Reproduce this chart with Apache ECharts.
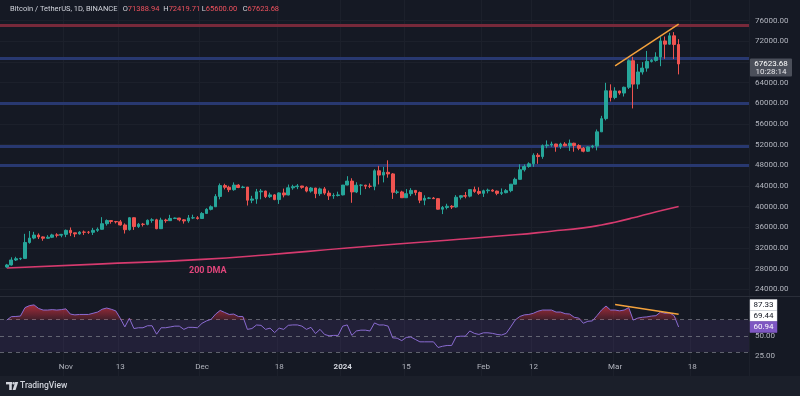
<!DOCTYPE html>
<html><head><meta charset="utf-8">
<script src="https://cdn.jsdelivr.net/npm/echarts@6/dist/echarts.min.js"></script>
<style>html,body{margin:0;padding:0;background:#151924;}#c{width:800px;height:396px;}</style>
</head><body><div id="c"></div>
<script>
// ---------- data ----------
const firstCategory = '2023-10-18';
const categoryCount = 165;
const firstCandle = '2023-10-19';

const open = [
 28328,28720,29680,29920,29990,33070,33920,34500,34150,33890,34080,34530,34480,
 34640,35420,34940,34730,35080,35050,35040,35420,35620,36700,37310,37130,37060,36460,35550,37860,36160,36610,36570,37360,37450,35740,37410,37290,37720,37800,37450,37240,37820,37850,
 37710,38690,39480,39980,41980,44080,43750,43290,44170,43710,43790,41250,41490,42870,43020,41940,42280,41370,42660,42270,43650,43870,44000,43740,43020,43610,42520,43440,42630,42100,42160,
 42280,44180,44950,42850,44150,44160,43970,43930,46950,46110,46650,46340,42780,42850,41730,42510,43150,42740,41260,41620,41670,41550,39510,39850,40080,39930,41820,42120,42040,43300,42950,
 42580,43080,43200,43010,42580,42710,43100,44350,45290,47150,47770,48290,49960,49700,51810,51940,52120,51660,52120,51780,52280,51840,51300,50730,51570,51730,54480,57040,62430,
 61130,62390,61990,63110,68250,63720,66070,66820,68120,68310,68960,72080,71450,73070,71388.94
];
const high = [
 28920,30200,30300,30110,34740,35280,35130,34820,34250,34480,34750,34860,34720,
 35580,35980,34950,35260,35380,35290,35890,35980,37970,37530,37410,37230,37430,36760,37980,37930,36850,36850,37530,37760,37650,37860,37660,38420,37890,37830,37590,38390,38450,38170,
 38950,39700,40250,42420,44490,44430,44050,44700,44360,44040,43790,42100,43430,43420,43090,42720,42430,42760,43500,44280,44240,44380,44020,43950,43800,43620,43680,43800,43110,42600,42900,
 44180,45900,45500,44730,44340,44230,44500,47250,47900,47700,48970,46500,43260,43080,43400,43580,43200,42930,42200,41870,41870,41680,40130,40560,40290,42230,42200,42840,43310,43880,43750,
 43290,43490,43380,43120,43530,43400,44370,45610,48200,48170,48590,50330,50370,52040,52820,52580,52180,52370,52480,52990,52370,52080,51550,51680,51960,54940,57580,63970,63680,
 63110,62430,63230,68500,69000,67640,67980,70140,68590,69880,72800,72940,73650,73780,72419.71
];
const low = [
 28170,28600,29480,29660,29880,32830,33690,33730,33400,33800,33920,34050,34070,
 34100,34300,34100,34580,34530,34730,34520,35120,35540,36330,36710,36750,36340,34800,35360,35500,35880,36160,36390,36890,35630,35670,36880,37250,37600,37160,36720,36880,37600,37500,
 37620,38650,39280,39980,41420,43340,42820,43080,43580,43560,40220,40680,40560,41420,41660,41680,41250,40530,41800,42180,43280,43390,43470,42780,42720,41640,42100,42300,41300,41520,41970,
 42180,44150,40750,42630,42280,43400,43580,43180,44300,44700,45600,41500,42440,41720,41720,42050,42200,40680,40280,41450,41500,39430,38560,39480,39550,39820,41390,41620,41800,42680,42280,
 41880,42580,42880,42220,42260,42580,42790,44330,45240,46800,47540,47710,48300,49270,51310,51590,50630,51180,51690,50790,50630,50930,50520,50590,51280,50900,54450,56700,60360,
 60790,61660,61320,62780,59010,62790,65570,66130,67900,68070,67190,68620,71330,68560,65600
];
const close = [
 28720,29680,29920,29990,33070,33920,34500,34150,33890,34080,34530,34480,34640,
 35420,34940,34730,35080,35050,35040,35420,35620,36700,37310,37130,37060,36460,35550,37860,36160,36610,36570,37360,37450,35740,37410,37290,37720,37800,37450,37240,37820,37850,37710,
 38690,39480,39980,41980,44080,43750,43290,44170,43710,43790,41250,41490,42870,43020,41940,42280,41370,42660,42270,43650,43870,44000,43740,43020,43610,42520,43440,42630,42100,42160,42280,
 44180,44950,42850,44150,44160,43970,43930,46950,46110,46650,46340,42780,42850,41730,42510,43150,42740,41260,41620,41670,41550,39510,39850,40080,39930,41820,42120,42040,43300,42950,42580,
 43080,43200,43010,42580,42710,43100,44350,45290,47150,47770,48290,49960,49700,51810,51940,52120,51660,52120,51780,52280,51840,51300,50730,51570,51730,54480,57040,62430,61130,
 62390,61990,63110,68250,63720,66070,66820,68120,68310,68960,72080,71450,73070,71388.94,67623.68
];
const rsi = [
 69.6,73.8,74,74.5,85,87.5,88.4,84,82,82,82.5,82,82.5,
 83.5,77,76,76.5,76.5,76.5,78,79.5,83,84.5,83,81,71.7,61,71.7,59,60,60,62.5,62.5,52,60,60,61,62,62,58,60.5,60.5,60,
 65.5,68.5,70.5,77,81.5,79,76.5,77,74,74,58,59,63.4,63,58,59.5,54,59.5,58,63,63.5,63.5,62,58,60.5,52.8,58,51.7,50,50.5,50.5,
 62,63.5,50.5,56,57,57,56,66,63.4,63.5,62,47.5,47,44,48,48.5,45.5,42.5,42.5,42.5,42.5,35.5,37,38,38,49,49.5,49.5,56,53,51.7,
 53.7,53.7,53,51.7,51,53,61,69.6,74,76,76.5,78,80.5,82,82,82,79.5,79.5,77.5,77,73,72,65.6,68,68.5,75,82,87,82,
 82,81,82,85,69.5,72,73,73.5,74.5,75,79.5,78,78.5,75,60.94
];
const dma200 = [
 ['2023-10-19',28115],['2023-11-08',28885],['2023-12-01',29790],['2023-12-15',30650],
 ['2024-01-02',32000],['2024-01-24',33500],['2024-02-08',34550],['2024-02-16',35250],
 ['2024-02-23',35900],['2024-02-27',36450],['2024-03-01',37000],['2024-03-05',37850],
 ['2024-03-08',38550],['2024-03-11',39200],['2024-03-15',40040]
];
const priceTrend = [['2024-03-01',67250],['2024-03-15',75330]];
const rsiTrend = [['2024-03-01',88.8],['2024-03-15',76.7]];
const resistanceLevels = [75040];
const supportLevels = [68630,59980,51770,47920];
const priceTicks = [24000,28000,32000,36000,40000,44000,48000,52000,56000,60000,64000,68000,72000,76000];
const rsiLevels = [70,50,30];
const tickDates = ['2023-11-01','2023-11-13','2023-12-01','2023-12-18','2024-01-01','2024-01-15','2024-02-01','2024-02-12','2024-03-01','2024-03-18'];
const tickLabels = ['Nov','13','Dec','18','2024','15','Feb','12','Mar','18'];
const headerTitle = 'Bitcoin / TetherUS, 1D, BINANCE';
const headerKeys = ['O','H','L','C'];
const headerValues = ['71388.94','72419.71','65600.00','67623.68'];
const lastPrice = 67623.68;
const countdown = '10:28:14';
const rsiBadges = [87.33, 69.44, 60.94];

// ---------- build ----------
const FONT = 'Roboto, "Liberation Sans", sans-serif';
const categories = [];
const t0 = Date.UTC(2023, 9, 18);
for (let i = 0; i < categoryCount; i++) categories.push(new Date(t0 + i * 86400000).toISOString().slice(0, 10));
const off = categories.indexOf(firstCandle);
const candleData = [], rsiData = [], obBase = [], obFill = [];
for (let i = 0; i < off; i++) { candleData.push(['-','-','-','-']); rsiData.push('-'); obBase.push('-'); obFill.push('-'); }
open.forEach((o, j) => candleData.push([o, close[j], low[j], high[j]]));
rsi.forEach(v => { rsiData.push(v); obBase.push(70); obFill.push(Math.max(v - 70, 0)); });

const chart = echarts.init(document.getElementById('c'));
const labelColor = '#b2b5be';
const gridColor = '#1c202b';
const splitFn = (i, v) => tickDates.indexOf(v) >= 0;

const option = {
  backgroundColor: '#151924',
  animation: false,
  grid: [
    { left: -1, width: 750, top: -2, height: 312 },
    { left: -1, width: 750, top: 295.55, height: 80.5 }
  ],
  xAxis: [
    { type: 'category', gridIndex: 0, data: categories, boundaryGap: true,
      axisLine: { show: false }, axisTick: { show: false }, axisLabel: { show: false },
      splitLine: { show: true, interval: splitFn, lineStyle: { color: gridColor, width: 1 } } },
    { type: 'category', gridIndex: 1, data: categories, boundaryGap: true, offset: -18,
      axisLine: { show: false }, axisTick: { show: false },
      splitLine: { show: true, interval: splitFn, lineStyle: { color: gridColor, width: 1 } },
      axisLabel: { interval: splitFn, color: labelColor, fontSize: 8, fontFamily: FONT, margin: 5,
        formatter: v => { const t = tickLabels[tickDates.indexOf(v)]; return t === '2024' ? '{b|2024}' : t; },
        rich: { b: { fontWeight: 'bold', color: '#d1d4dc', fontSize: 8, fontFamily: FONT } } } }
  ],
  yAxis: [
    { type: 'value', gridIndex: 0, position: 'right', min: 20000, max: 80000, interval: 4000,
      axisLine: { show: false }, axisTick: { show: false }, splitLine: { show: false },
      axisLabel: { showMinLabel: false, showMaxLabel: false, formatter: v => v.toFixed(2), color: labelColor, fontSize: 8, fontFamily: FONT, margin: 6 } },
    { type: 'value', gridIndex: 1, position: 'right', min: 0, max: 100, interval: 25,
      axisLine: { show: false }, axisTick: { show: false }, splitLine: { show: false },
      axisLabel: { showMinLabel: false, showMaxLabel: false, formatter: v => v.toFixed(2), color: labelColor, fontSize: 8, fontFamily: FONT, margin: 6 } }
  ],
  series: [
    { type: 'line', xAxisIndex: 0, yAxisIndex: 0, data: [], silent: true, z: 0,
      markLine: { z: 0, symbol: 'none', silent: true, label: { show: false }, animation: false,
        lineStyle: { color: gridColor, width: 1, type: 'solid' },
        data: priceTicks.map(v => ({ yAxis: v })) } },
    { type: 'line', xAxisIndex: 0, yAxisIndex: 0, data: [], silent: true, z: 1,
      markLine: { z: 1, symbol: 'none', silent: true, label: { show: false }, animation: false,
        data: resistanceLevels.map(v => ({ yAxis: v, lineStyle: { color: '#77293a', width: 3, type: 'solid' } }))
          .concat(supportLevels.map(v => ({ yAxis: v, lineStyle: { color: '#283870', width: 3.2, type: 'solid' } }))) } },
    { type: 'line', xAxisIndex: 0, yAxisIndex: 0, data: dma200, smooth: 0.5, symbol: 'none', silent: true, z: 3,
      lineStyle: { color: '#d63a6e', width: 1.6 } },
    { type: 'candlestick', xAxisIndex: 0, yAxisIndex: 0, data: candleData, barWidth: 3.2, z: 4,
      itemStyle: { color: '#26a69a', color0: '#ef5350', borderColor: '#26a69a', borderColor0: '#ef5350', borderWidth: 1 } },
    { type: 'line', xAxisIndex: 0, yAxisIndex: 0, data: priceTrend, symbol: 'none', silent: true, z: 5,
      lineStyle: { color: '#f4a23c', width: 1.5 } },
    // RSI pane
    { type: 'line', xAxisIndex: 1, yAxisIndex: 1, data: obBase, stack: 'ob', symbol: 'none', silent: true, z: 2,
      lineStyle: { width: 0, opacity: 0 } },
    { type: 'line', xAxisIndex: 1, yAxisIndex: 1, data: obFill, stack: 'ob', symbol: 'none', silent: true, z: 2,
      lineStyle: { width: 0, opacity: 0 },
      areaStyle: { opacity: 1, color: new echarts.graphic.LinearGradient(0, 0, 0, 1, [
        { offset: 0, color: 'rgba(242,54,69,0.65)' }, { offset: 1, color: 'rgba(242,54,69,0.2)' }]) } },
    { type: 'line', xAxisIndex: 1, yAxisIndex: 1, data: rsiData, symbol: 'none', silent: true, z: 3,
      lineStyle: { color: '#8a6bd1', width: 1 },
      markArea: { z: 1, silent: true, itemStyle: { color: 'rgba(126,87,194,0.13)' }, data: [[{ yAxis: 30 }, { yAxis: 70 }]] },
      markLine: { z: 2, symbol: 'none', silent: true, label: { show: false }, animation: false,
        lineStyle: { color: 'rgba(120,123,134,0.75)', width: 1, type: [4, 4] },
        data: rsiLevels.map(v => ({ yAxis: v })) } },
    { type: 'line', xAxisIndex: 1, yAxisIndex: 1, data: rsiTrend, symbol: 'none', silent: true, z: 5,
      lineStyle: { color: '#f4a23c', width: 1.5 } }
  ]
};
chart.setOption(option);

// ---------- annotations ----------
const g = [];
g.push({ type: 'rect', shape: { x: 0, y: 376, width: 800, height: 20 }, style: { fill: '#1b1f2a' }, z: 10 });
g.push({ type: 'line', shape: { x1: 0, y1: 296.5, x2: 800, y2: 296.5 }, style: { stroke: '#2a2e39', lineWidth: 1 }, z: 10 });
g.push({ type: 'text', x: 10, y: 9, style: { text: headerTitle, fill: '#d1d4dc', font: '7.5px ' + FONT, verticalAlign: 'middle' }, z: 20 });
const hx = [122.7, 163.3, 201.7, 242.7];
headerKeys.forEach((k, i) => {
  g.push({ type: 'text', x: hx[i], y: 9, z: 20, style: {
    text: '{k|' + k + '}{v|' + headerValues[i] + '}', verticalAlign: 'middle',
    rich: { k: { fill: '#d1d4dc', font: '7.5px ' + FONT }, v: { fill: '#f0525e', font: '7.5px ' + FONT } } } });
});
// last price badge
const py = chart.convertToPixel({ yAxisIndex: 0 }, lastPrice);
g.push({ type: 'rect', shape: { x: 750, y: py - 5.5, width: 42, height: 18, r: 1 }, style: { fill: '#4b4f5a' }, z: 20 });
g.push({ type: 'text', x: 771, y: py + 0.5, style: { text: lastPrice.toFixed(2), fill: '#ffffff', font: '8px ' + FONT, align: 'center', verticalAlign: 'middle' }, z: 21 });
g.push({ type: 'text', x: 771, y: py + 8.5, style: { text: countdown, fill: '#e6e6ea', font: '8px ' + FONT, align: 'center', verticalAlign: 'middle' }, z: 21 });
// RSI badges (stacked upward to avoid overlap)
const centers = rsiBadges.map(v => chart.convertToPixel({ yAxisIndex: 1 }, v));
for (let i = centers.length - 2; i >= 0; i--) centers[i] = Math.min(centers[i], centers[i + 1] - 11);
rsiBadges.forEach((v, i) => {
  const last = i === rsiBadges.length - 1;
  g.push({ type: 'rect', shape: { x: 750, y: centers[i] - 5.5, width: 27, height: 11 }, style: { fill: last ? '#7e57c2' : '#ffffff', stroke: last ? '#7e57c2' : '#d1d4dc', lineWidth: 0.5 }, z: 20 });
  g.push({ type: 'text', x: 763.5, y: centers[i] + 0.5, style: { text: v.toFixed(2), fill: last ? '#ffffff' : '#131722', font: '8px ' + FONT, align: 'center', verticalAlign: 'middle' }, z: 21 });
});
// 200 DMA label
g.push({ type: 'text', x: 189, y: 271, style: { text: '200 DMA', fill: '#e0457b', font: 'bold 9px ' + FONT, verticalAlign: 'middle' }, z: 20 });
// TradingView logo
g.push({ type: 'rect', shape: { x: 6, y: 382, width: 6, height: 2.4 }, style: { fill: '#d1d4dc' }, z: 20 });
g.push({ type: 'rect', shape: { x: 9.2, y: 382, width: 2.6, height: 8 }, style: { fill: '#d1d4dc' }, z: 20 });
g.push({ type: 'circle', shape: { cx: 13.6, cy: 383.3, r: 1.3 }, style: { fill: '#d1d4dc' }, z: 20 });
g.push({ type: 'polygon', shape: { points: [[15.2, 382], [18.2, 382], [15.6, 390], [12.6, 390]] }, style: { fill: '#d1d4dc' }, z: 20 });
g.push({ type: 'text', x: 20, y: 386, style: { text: 'TradingView', fill: '#d1d4dc', font: '500 8.5px ' + FONT, verticalAlign: 'middle' }, z: 20 });
chart.setOption({ graphic: g });
</script>
</body></html>
